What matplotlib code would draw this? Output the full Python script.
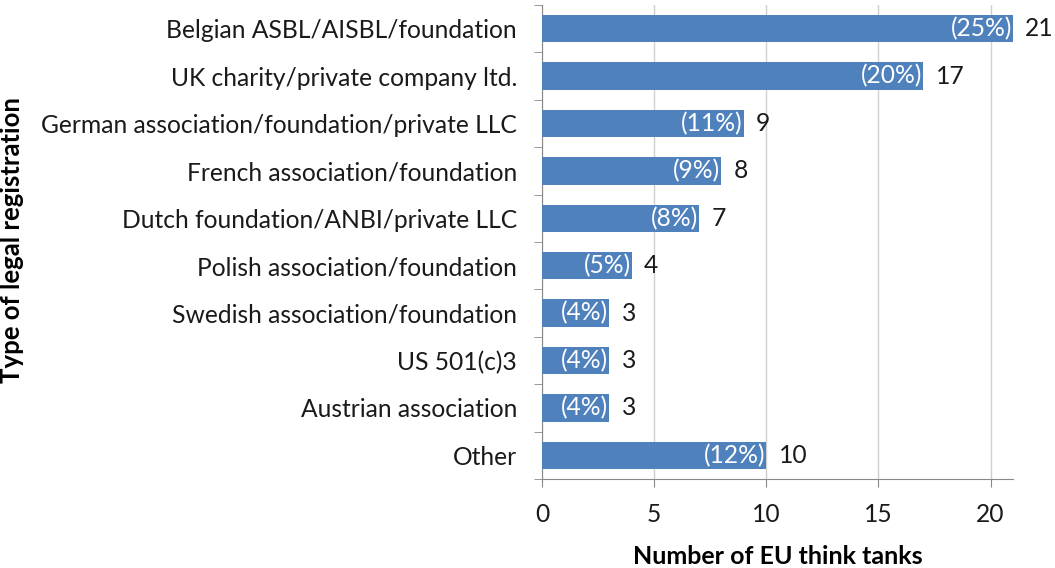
import matplotlib
matplotlib.use("Agg")
import matplotlib.pyplot as plt
import numpy as np

categories = ["Belgian ASBL/AISBL/foundation", "UK charity/private company ltd.",
              "German association/foundation/private LLC", "French association/foundation",
              "Dutch foundation/ANBI/private LLC", "Polish association/foundation",
              "Swedish association/foundation", "US 501(c)3", "Austrian association", "Other"]
counts = [21, 17, 9, 8, 7, 4, 3, 3, 3, 10]
percents = ["(25%)", "(20%)", "(11%)", "(9%)", "(8%)", "(5%)", "(4%)", "(4%)", "(4%)", "(12%)"]
xticks = [0, 5, 10, 15, 20]

plt.rcParams['font.family'] = ['Lato', 'DejaVu Sans']
fig = plt.figure(figsize=(10.55, 5.68), dpi=100)
ax = fig.add_axes([542/1055, 1-479/568, (1013-542)/1055, (479-5)/568])

fs = 17.7
y = np.arange(len(categories))
ax.barh(y, counts, height=0.58, color="#4F81BD", zorder=3)
ax.set_ylim(len(categories)-0.5, -0.5)
ax.set_xlim(0, 21)
ax.set_xticks(xticks)
ax.set_yticks(y)
ax.set_yticklabels(categories, fontsize=fs, color="#1a1a1a")
ax.set_yticks(np.arange(-0.5, len(categories), 1), minor=True)
ax.tick_params(axis='y', which='major', length=0, pad=18)
ax.tick_params(axis='y', which='minor', length=6, color="#888888")
ax.tick_params(axis='x', length=6, color="#888888", labelsize=fs, pad=11, labelcolor="#1a1a1a")
ax.grid(axis='x', color="#d0d0d0", linewidth=1, zorder=0)
for s in ['top', 'right']:
    ax.spines[s].set_visible(False)
for s in ['left', 'bottom']:
    ax.spines[s].set_color("#888888")

for yi, c, p in zip(y, counts, percents):
    ax.text(c - 0.05, yi, p, ha='right', va='center', color='white', fontsize=fs, zorder=4)
    ax.text(c + 0.55, yi, str(c), ha='left', va='center', color='#1a1a1a', fontsize=fs, zorder=4)

ax.set_xlabel("Number of EU think tanks", fontsize=18, fontweight='bold', labelpad=14)
fig.text(12/1055, 1-240/568, "Type of legal registration", rotation=90, ha='center', va='center',
         fontsize=18.5, fontweight='bold')

fig.savefig("out.png", dpi=100)
